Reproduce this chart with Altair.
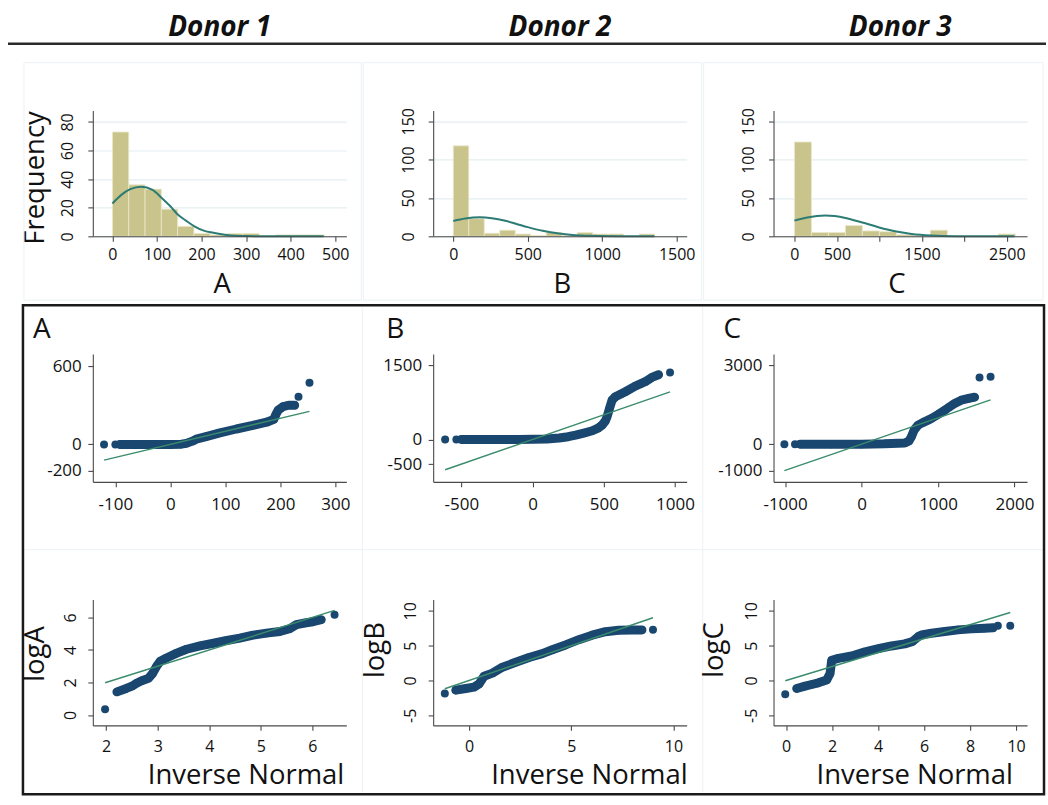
import altair as alt
import pandas as pd

NAVY = "#1a476f"
BAR = "#c9c48c"
CURVE = "#2c7b74"
REF = "#3a8c6c"
AXC = "#4a4a4a"
TXT = "#111111"
FAINT = "#ebf2f4"
FONT = "Open Sans"

donors = ["Donor 1", "Donor 2", "Donor 3"]
letters = ["A", "B", "C"]

# ---------------- histograms (bin edges and counts) ----------------
hA_lo = [0, 36.6, 73.2, 109.8, 146.4, 183.0, 219.6, 256.2, 292.8, 329.4, 366.0, 402.6, 439.2]
hA_hi = [36.6, 73.2, 109.8, 146.4, 183.0, 219.6, 256.2, 292.8, 329.4, 366.0, 402.6, 439.2, 475.8]
hA_n = [73, 36, 33, 19, 7, 2, 1, 2, 2, 0, 1, 1, 1]

hB_lo = [0, 104, 208, 312, 416, 520, 624, 728, 832, 936, 1040, 1144, 1248]
hB_hi = [104, 208, 312, 416, 520, 624, 728, 832, 936, 1040, 1144, 1248, 1352]
hB_n = [118, 23, 4, 8, 3, 1, 5, 1, 5, 3, 3, 0, 3]

hC_lo = [0, 200, 400, 600, 800, 1000, 1200, 1400, 1600, 1800, 2000, 2200, 2400]
hC_hi = [200, 400, 600, 800, 1000, 1200, 1400, 1600, 1800, 2000, 2200, 2400, 2600]
hC_n = [123, 5, 5, 14, 7, 6, 2, 1, 8, 0, 0, 0, 3]

# normal density overlays
nA_x = [0, 20, 40, 65, 90, 110, 130, 146, 165, 184, 205, 221, 256, 300, 350, 474]
nA_y = [23, 29, 33, 34.7, 32.5, 27, 21, 15.5, 11, 7, 4, 2.8, 1, 0.2, 0, 0]
nB_x = [0, 80, 178, 260, 350, 420, 500, 600, 711, 800, 933, 1100, 1351]
nB_y = [20, 23.2, 24.8, 23.6, 20.2, 16.5, 12, 7.2, 3.6, 1.8, 0.6, 0.1, 0]
nC_x = [0, 150, 363, 600, 800, 988, 1200, 1379, 1613, 1900, 2200, 2590]
nC_y = [20.5, 24.5, 27, 24, 18, 11.9, 6.2, 3, 1, 0.2, 0.05, 0]

# ---------------- Q-Q plots of raw values ----------------
qA_x = [-120.6, -100, -92, -60, -30, 0, 20, 29, 40, 47, 65, 90, 120, 150, 175, 188, 192, 196, 205, 215, 226, 233, 253]
qA_y = [0, 0, 0, 0, 0, 0, 2, 8, 25, 40, 60, 88, 118, 145, 170, 192, 230, 262, 290, 300, 300, 366, 473]
qA_g = ["s", "s"] + ["d"] * 19 + ["s", "s"]

qB_x = [-614, -535, -500, -300, -100, 100, 186, 250, 302, 360, 419, 460, 488, 510, 523, 540, 558, 581, 620, 651, 690, 721, 760, 791, 837, 884, 965]
qB_y = [0, 0, 0, 0, 0, 10, 30, 55, 88, 130, 176, 230, 291, 370, 459, 628, 797, 865, 920, 966, 1030, 1081, 1130, 1169, 1257, 1311, 1358]
qB_g = ["s", "s"] + ["d"] * 24 + ["s"]

qC_x = [-1009, -870, -804, -400, 0, 300, 565, 620, 652, 687, 739, 800, 870, 913, 1000, 1087, 1150, 1217, 1304, 1400, 1478, 1543, 1687]
qC_y = [0, 0, 0, 0, 0, 12, 40, 120, 280, 534, 724, 820, 915, 978, 1130, 1296, 1420, 1550, 1677, 1740, 1790, 2541, 2567]
qC_g = ["s", "s"] + ["d"] * 19 + ["s", "s"]

# ---------------- Q-Q plots of log values ----------------
lA_x = [1.98, 2.21, 2.39, 2.5, 2.59, 2.69, 2.82, 2.9, 2.98, 3.05, 3.17, 3.37, 3.56, 3.82, 4.08, 4.34, 4.59, 4.85, 5.11, 5.37, 5.56, 5.69, 5.88, 6.01, 6.17, 6.43]
lA_y = [0.35, 1.42, 1.63, 1.77, 1.95, 2.1, 2.25, 2.55, 3.0, 3.3, 3.5, 3.8, 4.04, 4.25, 4.41, 4.58, 4.72, 4.91, 5.03, 5.13, 5.3, 5.55, 5.67, 5.73, 5.86, 6.16]
lA_g = ["s"] + ["d"] * 24 + ["s"]

lB_x = [-1.19, -0.65, -0.16, 0.24, 0.49, 0.73, 1.14, 1.63, 2.28, 2.93, 3.58, 4.07, 4.72, 5.37, 6.02, 6.67, 7.32, 7.97, 8.46, 9.0]
lB_y = [-1.88, -1.4, -1.15, -0.95, -0.5, 0.6, 1.05, 1.9, 2.6, 3.3, 3.85, 4.4, 5.1, 5.85, 6.5, 7.0, 7.2, 7.25, 7.25, 7.26]
lB_g = ["s"] + ["d"] * 18 + ["s"]

lC_x = [-0.04, 0.46, 0.82, 1.11, 1.40, 1.76, 1.91, 1.98, 2.27, 2.85, 3.43, 4.01, 4.58, 5.16, 5.5, 5.75, 5.89, 6.32, 6.9, 7.48, 8.06, 8.63, 9.0, 9.21, 9.75]
lC_y = [-1.97, -1.15, -0.82, -0.58, -0.34, 0.05, 1.0, 2.9, 3.17, 3.51, 4.1, 4.55, 4.95, 5.25, 5.6, 6.3, 6.54, 6.78, 7.02, 7.26, 7.4, 7.5, 7.55, 7.84, 7.84]
lC_g = ["s"] + ["d"] * 22 + ["s", "s"]

W = 254
H1, H2, H3 = 126, 128, 126

PLAIN = "datum.value < 0 ? '-' + format(-datum.value, 'd') : format(datum.value, 'd')"


def ax(**kw):
    base = dict(domainColor=AXC, tickColor=AXC, tickSize=5, domainWidth=1.1, tickWidth=1.1,
                labelColor=TXT, titleColor=TXT, labelFont=FONT, titleFont=FONT,
                titleFontWeight="normal", titleFontSize=27.5, labelOverlap=False,
                labelFlush=False, grid=False, labelExpr=PLAIN)
    base.update(kw)
    return alt.Axis(**base)


def x_axis(vals, pad, fs, title=None, tx=0, ty=0, expr=None):
    kw = dict(values=vals, labelPadding=pad, labelFontSize=fs, labelBaseline="alphabetic",
              labelAlign="center", zindex=1)
    if title:
        kw.update(title=title, titleX=tx, titleY=ty, titleAlign="center", titleBaseline="alphabetic")
    else:
        kw.update(title=None)
    if expr:
        kw.update(labelExpr=expr)
    return ax(**kw)


def y_rot(vals, pad, fs, title=None, tx=0, ty=0, grid=False):
    kw = dict(values=vals, labelPadding=pad, labelFontSize=fs, labelAngle=270, labelAlign="center",
              labelBaseline="alphabetic", grid=grid, gridColor="#e4eef1", gridWidth=1.2)
    if title:
        kw.update(title=title, titleAngle=270, titleX=tx, titleY=ty, titleAlign="center",
                  titleBaseline="alphabetic")
    else:
        kw.update(title=None)
    return ax(**kw)


def y_flat(vals, pad, fs):
    return ax(values=vals, labelPadding=pad, labelFontSize=fs, labelAngle=0, labelAlign="right",
              labelBaseline="middle", title=None)


def sc(dom):
    return alt.Scale(domain=dom, nice=False, zero=False)


def text_layer(txt, x, y, size, align="center", bold=False):
    kw = dict(font=FONT, fontSize=size, align=align, baseline="alphabetic", color=TXT)
    if bold:
        kw.update(fontWeight="bold", fontStyle="italic")
    return alt.Chart(pd.DataFrame({"t": [txt]})).mark_text(**kw).encode(
        x=alt.value(x), y=alt.value(y), text="t:N")


def frame(x, x2, y, y2):
    return alt.Chart(pd.DataFrame({"a": [0]})).mark_rect(
        fillOpacity=0, stroke=FAINT, strokeWidth=1).encode(
        x=alt.value(x), x2=alt.value(x2), y=alt.value(y), y2=alt.value(y2))


def hline(x, x2, y, color, width):
    return alt.Chart(pd.DataFrame({"a": [0]})).mark_rule(color=color, strokeWidth=width).encode(
        x=alt.value(x), x2=alt.value(x2), y=alt.value(y))


def vline(x, y, y2, color, width):
    return alt.Chart(pd.DataFrame({"a": [0]})).mark_rule(color=color, strokeWidth=width).encode(
        x=alt.value(x), y=alt.value(y), y2=alt.value(y2))


def hist_panel(lo, hi, n, cx, cy, xdom, ydom, xa, ya, header, extra=()):
    xs, ys = sc(xdom), sc(ydom)
    bars = alt.Chart(pd.DataFrame({"x": lo, "x2": hi, "y": n})).mark_rect(
        color=BAR, stroke="#ebe8cc", strokeWidth=0.8).encode(
        x=alt.X("x:Q", scale=xs, axis=xa), x2="x2:Q",
        y=alt.Y("y:Q", scale=ys, axis=ya), y2=alt.datum(0))
    curve = alt.Chart(pd.DataFrame({"x": cx, "y": cy})).mark_line(
        color=CURVE, strokeWidth=2, interpolate="monotone").encode(
        x=alt.X("x:Q", scale=xs, axis=xa), y=alt.Y("y:Q", scale=ys, axis=ya))
    head = text_layer(header, W / 2, -74.5, 28, bold=True)
    return alt.layer(*extra, bars, curve, head).properties(width=W, height=H1)


def qq_panel(qx, qy, qg, xdom, ydom, xa, ya, h, extra=()):
    xs, ys = sc(xdom), sc(ydom)
    df = pd.DataFrame({"x": qx, "y": qy, "g": qg})
    band = alt.Chart(df).transform_filter("datum.g == 'd'").mark_line(
        color=NAVY, strokeWidth=9, strokeCap="round", strokeJoin="round").encode(
        x=alt.X("x:Q", scale=xs, axis=xa), y=alt.Y("y:Q", scale=ys, axis=ya))
    pts = alt.Chart(df).mark_circle(size=64, color=NAVY, opacity=1).encode(
        x=alt.X("x:Q", scale=xs, axis=xa), y=alt.Y("y:Q", scale=ys, axis=ya))
    lo, hi = min(qx), max(qx)
    ref = alt.Chart(pd.DataFrame({"x": [lo, hi], "y": [lo, hi]})).mark_line(
        color=REF, strokeWidth=1.4).encode(
        x=alt.X("x:Q", scale=xs, axis=xa), y=alt.Y("y:Q", scale=ys, axis=ya))
    return alt.layer(*extra, band, pts, ref).properties(width=W, height=h)


# decorations (pixel positions relative to each panel's plot area)
canvas = alt.Chart(pd.DataFrame({"a": [0]})).mark_rect(fill="#ffffff", fillOpacity=0).encode(
    x=alt.value(-93), x2=alt.value(955), y=alt.value(-110), y2=alt.value(695))
head_rule = hline(-85, 955, -67, "#2a2a2a", 2.5)
top_frames = (frame(-69, 269, -48, 190), frame(271, 610, -48, 190), frame(612, 952, -48, 190))
low_lines = (hline(-69, 952, 196, FAINT, 1), vline(270, -47, 439, FAINT, 1), vline(611, -47, 439, FAINT, 1))
box = alt.Chart(pd.DataFrame({"a": [0]})).mark_rect(fillOpacity=0, stroke="#1a1a1a", strokeWidth=2.5).encode(
    x=alt.value(-70), x2=alt.value(953), y=alt.value(-49), y2=alt.value(441))

HIDE = "datum.value == 1000 || datum.value == 2000 ? '' : format(datum.value, 'd')"

# ---- row 1 ----
p1 = hist_panel(hA_lo, hA_hi, hA_n, nA_x, nA_y, [-44, 525], [0, 88],
                x_axis([0, 100, 200, 300, 400, 500], 18.3, 16, "A", 129, 56),
                y_rot([0, 20, 40, 60, 80], 15, 16, "Frequency", -49, 67, grid=True),
                donors[0], extra=(canvas,) + top_frames + (head_rule,))
p2 = hist_panel(hB_lo, hB_hi, hB_n, nB_x, nB_y, [-135, 1567], [0, 164],
                x_axis([0, 500, 1000, 1500], 18.3, 16, "B", 129, 56),
                y_rot([0, 50, 100, 150], 15, 16, grid=True), donors[1])
p3 = hist_panel(hC_lo, hC_hi, hC_n, nC_x, nC_y, [-246, 2738], [0, 164],
                x_axis([0, 500, 1000, 1500, 2000, 2500], 18.3, 16, "C", 123, 56, expr=HIDE),
                y_rot([0, 50, 100, 150], 15, 16, grid=True), donors[2])

# ---- row 2 ----
p4 = qq_panel(qA_x, qA_y, qA_g, [-141, 320], [-287, 692],
              x_axis([-100, 0, 100, 200, 300], 23, 17), y_flat([-200, 0, 600], 6.6, 17), H2,
              extra=low_lines + (box, text_layer(letters[0], -60, -16, 28, align="left")))
p5 = qq_panel(qB_x, qB_y, qB_g, [-698, 1082], [-859, 1729],
              x_axis([-500, 0, 500, 1000], 23, 17), y_flat([-500, 0, 1500], 6.6, 17), H2,
              extra=(text_layer(letters[1], -47, -16, 28, align="left"),))
p6 = qq_panel(qC_x, qC_y, qC_g, [-1151, 2164], [-1437, 3432],
              x_axis([-1000, 0, 1000, 2000], 23, 17), y_flat([-1000, 0, 3000], 6.6, 17), H2,
              extra=(text_layer(letters[2], -50, -16, 28, align="left"),))

# ---- row 3 ----
p7 = qq_panel(lA_x, lA_y, lA_g, [1.742, 6.658], [-0.64, 7.09],
              x_axis([2, 3, 4, 5, 6], 20.7, 16, "Inverse Normal", 153, 58),
              y_rot([0, 2, 4, 6], 12.5, 16, "logA", -49, 54), H3)
p8 = qq_panel(lB_x, lB_y, lB_g, [-1.76, 10.65], [-6.45, 11.6],
              x_axis([0, 5, 10], 20.7, 16, "Inverse Normal", 156, 58),
              y_rot([-5, 0, 5, 10], 12.5, 16, "logB", -50, 50), H3)
p9 = qq_panel(lC_x, lC_y, lC_g, [-0.55, 10.48], [-6.45, 11.6],
              x_axis([0, 2, 4, 6, 8, 10], 20.7, 16, "Inverse Normal", 141, 58),
              y_rot([-5, 0, 5, 10], 12.5, 16, "logC", -51, 50), H3)

chart = alt.concat(p1, p2, p3, p4, p5, p6, p7, p8, p9, columns=3,
                   spacing={"row": 118, "column": 87}, bounds="flush").properties(
    padding=0, background="white").configure_view(strokeWidth=0)

chart.save("out.html", embed_options={"renderer": "svg", "actions": False})
